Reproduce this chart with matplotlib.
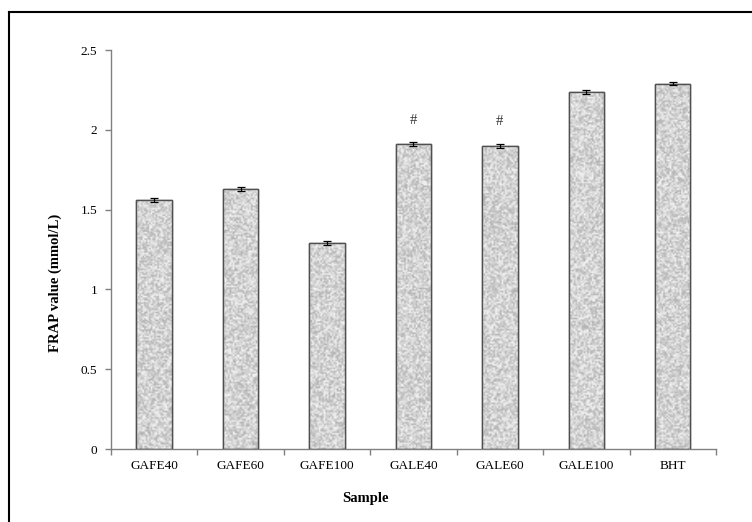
import numpy as np
import matplotlib.pyplot as plt
from matplotlib.lines import Line2D

samples = ["GAFE40", "GAFE60", "GAFE100", "GALE40", "GALE60", "GALE100", "BHT"]
frap = [1.56, 1.63, 1.29, 1.91, 1.90, 2.235, 2.29]
err = [0.012, 0.012, 0.012, 0.013, 0.013, 0.013, 0.012]
marks = ["", "", "", "#", "#", "", ""]

plt.rcParams['font.family'] = ['Liberation Serif', 'DejaVu Serif']

fig = plt.figure(figsize=(7.52, 5.22), dpi=100)
ax = fig.add_axes([0.1476, 0.1398, 0.8045, 0.7644])

x = np.arange(len(samples))
bars = ax.bar(x, frap, width=0.41, color='#d8d8d8', edgecolor='#505050',
              linewidth=1.0, zorder=2)
ax.errorbar(x, frap, yerr=err, fmt='none', ecolor='black', elinewidth=0.9,
            capsize=3, capthick=0.9, zorder=4)

# speckled light gray texture inside the bars
rng = np.random.default_rng(3)
for b in bars:
    tex = rng.random((int(b.get_height() * 100), 22))
    im = ax.imshow(tex, cmap='gray', vmin=-2.6, vmax=1.15, aspect='auto',
                   interpolation='bilinear', zorder=2.5,
                   extent=[b.get_x(), b.get_x() + b.get_width(), 0, b.get_height()])
    im.set_clip_path(b)
    ax.add_patch(plt.Rectangle((b.get_x(), 0), b.get_width(), b.get_height(), fill=False,
                               edgecolor='#505050', linewidth=1.0, zorder=3))

for xi, v, m in zip(x, frap, marks):
    if m:
        ax.text(xi, v + 0.15, m, ha='center', va='center', fontsize=10.5, color='#333333')

ax.set_xlim(-0.5, len(samples) - 0.5)
ax.set_ylim(0, 2.5)
ax.set_yticks([0, 0.5, 1, 1.5, 2, 2.5])
ax.set_yticklabels(["0", "0.5", "1", "1.5", "2", "2.5"])
ax.set_xticks(x)
ax.set_xticklabels(samples)
ax.set_xticks(np.arange(len(samples) + 1) - 0.5, minor=True)
ax.tick_params(axis='x', which='major', length=0, pad=8, labelsize=9.5)
ax.tick_params(axis='x', which='minor', length=4, color='#808080', width=1)
ax.tick_params(axis='y', length=4, color='#808080', width=1, labelsize=9.5, pad=6)

for s in ['top', 'right']:
    ax.spines[s].set_visible(False)
for s in ['left', 'bottom']:
    ax.spines[s].set_color('#808080')
    ax.spines[s].set_linewidth(1.0)

ax.set_xlabel("Sample", fontsize=10.5, fontweight='bold', labelpad=14, x=0.42)
ax.set_ylabel("FRAP value (mmol/L)", fontsize=10.5, fontweight='bold', labelpad=13, y=0.416)

# outer frame (top and left visible)
fig.add_artist(Line2D([8.5 / 752, 8.5 / 752], [0, 1 - 12 / 522], color='black', lw=1.5))
fig.add_artist(Line2D([8.5 / 752, 1], [1 - 12 / 522, 1 - 12 / 522], color='black', lw=1.5))

fig.savefig("out.png", dpi=100)
